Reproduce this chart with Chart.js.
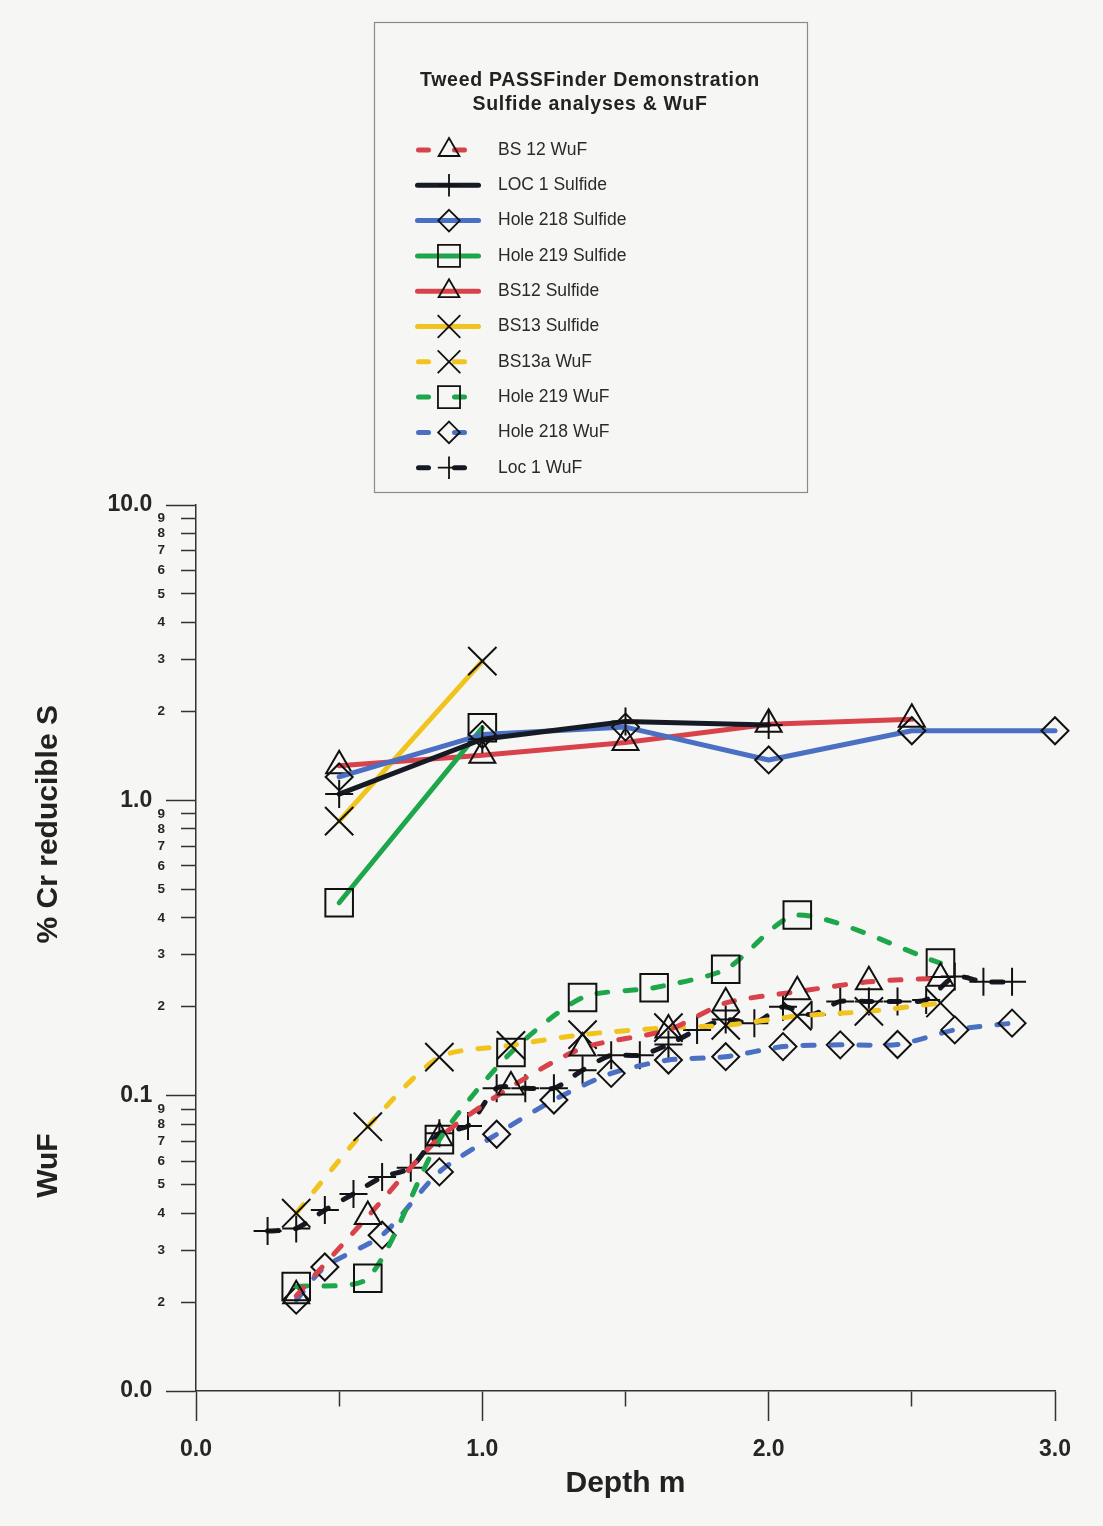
<!DOCTYPE html>
<html>
<head>
<meta charset="utf-8">
<title>Tweed PASSFinder Demonstration</title>
<script src="https://cdn.jsdelivr.net/npm/chart.js@4.4.1/dist/chart.umd.min.js"></script>
<style>
  html, body { margin: 0; padding: 0; background: #f6f6f4; }
  canvas { display: block; }
</style>
</head>
<body>
<canvas id="chart" width="1103" height="1526"></canvas>
<script>
// ---------------- DATA ----------------
const chartTitle = ['Tweed PASSFinder Demonstration', 'Sulfide analyses & WuF'];
const xAxisTitle = 'Depth m';
const yAxisTitles = ['% Cr reducible S', 'WuF'];
const yAxisTitleAnchors = [0.83, 0.058];   // value on the log axis where each title is centred

const xTickValues = [0, 0.5, 1.0, 1.5, 2.0, 2.5, 3.0];
const xTickLabels = ['0.0', '', '1.0', '', '2.0', '', '3.0'];

const yTickValues = [0.01, 0.02, 0.03, 0.04, 0.05, 0.06, 0.07, 0.08, 0.09,
                     0.1, 0.2, 0.3, 0.4, 0.5, 0.6, 0.7, 0.8, 0.9,
                     1, 2, 3, 4, 5, 6, 7, 8, 9, 10];
const yTickLabels = ['0.0', '2', '3', '4', '5', '6', '7', '8', '9',
                     '0.1', '2', '3', '4', '5', '6', '7', '8', '9',
                     '1.0', '2', '3', '4', '5', '6', '7', '8', '9', '10.0'];

const bs12WufX  = [0.35, 0.6, 0.85, 1.1, 1.35, 1.65, 1.85, 2.1, 2.35, 2.6];
const bs12WufY  = [0.021, 0.039, 0.072, 0.107, 0.145, 0.167, 0.206, 0.225, 0.243, 0.25];

const loc1SulfX = [0.5, 1.0, 1.5, 2.0];
const loc1SulfY = [1.05, 1.61, 1.85, 1.80];

const h218SulfX = [0.5, 1.0, 1.5, 2.0, 2.5, 3.0];
const h218SulfY = [1.20, 1.67, 1.77, 1.37, 1.72, 1.72];

const h219SulfX = [0.5, 1.0];
const h219SulfY = [0.45, 1.76];

const bs12SulfX = [0.5, 1.0, 1.5, 2.0, 2.5];
const bs12SulfY = [1.31, 1.42, 1.57, 1.81, 1.88];

const bs13SulfX = [0.5, 1.0];
const bs13SulfY = [0.85, 2.96];

const bs13aWufX = [0.35, 0.6, 0.85, 1.1, 1.35, 1.65, 1.85, 2.1, 2.35, 2.6];
const bs13aWufY = [0.040, 0.0785, 0.135, 0.148, 0.161, 0.170, 0.173, 0.186, 0.193, 0.206];

const h219WufX  = [0.35, 0.6, 0.85, 1.1, 1.35, 1.6, 1.85, 2.1, 2.6];
const h219WufY  = [0.0226, 0.0241, 0.071, 0.140, 0.215, 0.232, 0.268, 0.409, 0.281];

const h218WufX  = [0.35, 0.45, 0.65, 0.85, 1.05, 1.25, 1.45, 1.65, 1.85, 2.05, 2.25, 2.45, 2.65, 2.85];
const h218WufY  = [0.0203, 0.0263, 0.0337, 0.0552, 0.074, 0.0967, 0.119, 0.132, 0.1355, 0.1466, 0.1486, 0.149, 0.167, 0.176];

const loc1WufX  = [0.25, 0.35, 0.45, 0.55, 0.65, 0.75, 0.85, 0.95, 1.05, 1.15, 1.25, 1.35, 1.45, 1.55,
                   1.65, 1.75, 1.85, 1.95, 2.05, 2.15, 2.25, 2.35, 2.45, 2.55, 2.65, 2.75, 2.85];
const loc1WufY  = [0.0348, 0.0355, 0.041, 0.0465, 0.053, 0.057, 0.0746, 0.079, 0.106, 0.106, 0.106, 0.122, 0.137, 0.137,
                   0.149, 0.167, 0.181, 0.176, 0.200, 0.188, 0.2085, 0.2085, 0.2085, 0.211, 0.253, 0.243, 0.243];

// ---------------- STYLE ----------------
const FONT = "'Liberation Sans', Arial, Helvetica, sans-serif";
const RED = '#d8434b', BLUE = '#4a6fc3', GREEN = '#1ea64b', YELLOW = '#f1c41d', BLACK = '#161a24';
const AXIS = '#333333', TEXT = '#262626';
const markerRadius = { triangle: 15, cross: 14, crossRot: 20, rectRot: 13.5, rect: 19.5 };

const series = [
  { label: 'BS 12 WuF',        x: bs12WufX,  y: bs12WufY,  color: RED,    dashed: true,  marker: 'triangle' },
  { label: 'LOC 1 Sulfide',    x: loc1SulfX, y: loc1SulfY, color: BLACK,  dashed: false, marker: 'cross' },
  { label: 'Hole 218 Sulfide', x: h218SulfX, y: h218SulfY, color: BLUE,   dashed: false, marker: 'rectRot' },
  { label: 'Hole 219 Sulfide', x: h219SulfX, y: h219SulfY, color: GREEN,  dashed: false, marker: 'rect' },
  { label: 'BS12 Sulfide',     x: bs12SulfX, y: bs12SulfY, color: RED,    dashed: false, marker: 'triangle' },
  { label: 'BS13 Sulfide',     x: bs13SulfX, y: bs13SulfY, color: YELLOW, dashed: false, marker: 'crossRot' },
  { label: 'BS13a WuF',        x: bs13aWufX, y: bs13aWufY, color: YELLOW, dashed: true,  marker: 'crossRot' },
  { label: 'Hole 219 WuF',     x: h219WufX,  y: h219WufY,  color: GREEN,  dashed: true,  marker: 'rect' },
  { label: 'Hole 218 WuF',     x: h218WufX,  y: h218WufY,  color: BLUE,   dashed: true,  marker: 'rectRot' },
  { label: 'Loc 1 WuF',        x: loc1WufX,  y: loc1WufY,  color: BLACK,  dashed: true,  marker: 'cross' }
];

const datasets = series.map(s => ({
  label: s.label,
  data: s.x.map((xv, i) => ({ x: xv, y: s.y[i] })),
  borderColor: s.color,
  backgroundColor: s.color,
  borderWidth: 5,
  borderDash: s.dashed ? [11, 17] : [],
  borderCapStyle: 'round',
  borderJoinStyle: 'round',
  tension: s.dashed ? 0.25 : 0,
  fill: false,
  clip: false,
  pointStyle: s.marker,
  pointRadius: markerRadius[s.marker],
  pointHoverRadius: markerRadius[s.marker],
  pointBorderColor: '#111111',
  pointBorderWidth: 2,
  pointBackgroundColor: 'rgba(0,0,0,0)'
}));

const isYMajor = i => yTickLabels[i] !== undefined && yTickLabels[i].indexOf('.') >= 0;

// draw a marker with the same geometry as Chart.js point styles (for the legend)
function drawMarker(ctx, style, x, y, r) {
  ctx.beginPath();
  if (style === 'triangle') {
    for (let k = 0; k < 3; k++) {
      const a = k * 2 * Math.PI / 3;
      const px = x + Math.sin(a) * r, py = y - Math.cos(a) * r;
      if (k === 0) ctx.moveTo(px, py); else ctx.lineTo(px, py);
    }
    ctx.closePath();
  } else if (style === 'cross') {
    ctx.moveTo(x, y - r); ctx.lineTo(x, y + r);
    ctx.moveTo(x - r, y); ctx.lineTo(x + r, y);
  } else if (style === 'crossRot') {
    const d = r * Math.SQRT1_2;
    ctx.moveTo(x - d, y - d); ctx.lineTo(x + d, y + d);
    ctx.moveTo(x - d, y + d); ctx.lineTo(x + d, y - d);
  } else if (style === 'rectRot') {
    ctx.moveTo(x, y - r); ctx.lineTo(x + r, y); ctx.lineTo(x, y + r); ctx.lineTo(x - r, y);
    ctx.closePath();
  } else if (style === 'rect') {
    const h = r * Math.SQRT1_2;
    ctx.rect(x - h, y - h, 2 * h, 2 * h);
  }
  ctx.stroke();
}

const legendPlugin = {
  id: 'boxLegend',
  afterDraw(chart) {
    const ctx = chart.ctx;
    const box = { left: 374, top: 22, width: 433, height: 470 };
    ctx.save();
    ctx.strokeStyle = '#8a8a8a';
    ctx.lineWidth = 1.2;
    ctx.strokeRect(box.left + 0.5, box.top + 0.5, box.width, box.height);

    ctx.fillStyle = '#222';
    ctx.textAlign = 'center';
    ctx.textBaseline = 'middle';
    ctx.font = `bold 19.5px ${FONT}`;
    if ('letterSpacing' in ctx) ctx.letterSpacing = '0.7px';
    chartTitle.forEach((t, i) => ctx.fillText(t, 590, 81 + i * 24));
    if ('letterSpacing' in ctx) ctx.letterSpacing = '0px';

    const sx0 = 415, sx1 = 481, mx = 449, tx = 498;
    chart.data.datasets.forEach((ds, i) => {
      const s = series[i];
      const y = 150 + i * 35.3;
      ctx.save();
      ctx.strokeStyle = s.color;
      ctx.lineWidth = 5;
      ctx.lineCap = 'round';
      ctx.beginPath();
      if (s.dashed) {
        ctx.setLineDash([10, 26]);
        ctx.moveTo(418.5, y); ctx.lineTo(466, y);
      } else {
        ctx.moveTo(sx0 + 2.5, y); ctx.lineTo(sx1 - 2.5, y);
      }
      ctx.stroke();
      ctx.restore();

      ctx.strokeStyle = '#111';
      ctx.lineWidth = 1.8;
      drawMarker(ctx, s.marker, mx, y, markerRadius[s.marker] * 0.8);

      ctx.fillStyle = '#2a2a2a';
      ctx.textAlign = 'left';
      ctx.textBaseline = 'middle';
      ctx.font = `17.5px ${FONT}`;
      ctx.fillText(ds.label, tx, y);
    });
    ctx.restore();
  }
};

const yTitlePlugin = {
  id: 'yTitles',
  afterDraw(chart) {
    const ctx = chart.ctx, ys = chart.scales.y;
    ctx.save();
    ctx.font = `bold 30px ${FONT}`;
    ctx.fillStyle = '#222';
    ctx.textAlign = 'center';
    ctx.textBaseline = 'middle';
    yAxisTitles.forEach((t, i) => {
      ctx.save();
      ctx.translate(49, ys.getPixelForValue(yAxisTitleAnchors[i]));
      ctx.rotate(-Math.PI / 2);
      ctx.fillText(t, 0, 0);
      ctx.restore();
    });
    ctx.restore();
  }
};

new Chart(document.getElementById('chart'), {
  type: 'line',
  data: { datasets },
  plugins: [legendPlugin, yTitlePlugin],
  options: {
    responsive: false,
    animation: false,
    devicePixelRatio: 1,
    events: [],
    layout: { padding: { left: 0, top: 505, right: 48, bottom: 0 } },
    plugins: { legend: { display: false }, tooltip: { enabled: false }, title: { display: false } },
    scales: {
      x: {
        type: 'linear',
        min: 0, max: 3,
        afterBuildTicks: s => { s.ticks = xTickValues.map(v => ({ value: v })); },
        afterFit: s => { s.height = 135; s.paddingLeft = 0; s.paddingRight = 0; },
        ticks: {
          autoSkip: false, maxRotation: 0, minRotation: 0, padding: 15,
          color: TEXT,
          font: { family: FONT, size: 23, weight: 'bold' },
          callback: (v, i) => xTickLabels[i]
        },
        grid: {
          drawOnChartArea: false, drawTicks: true, tickLength: 30,
          tickColor: AXIS, tickWidth: 1.5,
          tickBorderDash: c => (xTickLabels[c.index] ? [] : [15, 15])
        },
        border: { display: true, color: AXIS, width: 1.5 },
        title: {
          display: true, text: xAxisTitle, color: '#222',
          font: { family: FONT, size: 30, weight: 'bold' },
          padding: { top: 0, bottom: 24 }
        }
      },
      y: {
        type: 'logarithmic',
        min: 0.01, max: 10,
        afterBuildTicks: s => { s.ticks = yTickValues.map(v => ({ value: v })); },
        afterFit: s => { s.width = 196; s.paddingTop = 0; s.paddingBottom = 0; },
        ticks: {
          autoSkip: false, padding: 1,
          color: TEXT,
          font: c => (isYMajor(c.index)
            ? { family: FONT, size: 23, weight: 'bold' }
            : { family: FONT, size: 13.5, weight: 'bold' }),
          callback: (v, i) => (isYMajor(i) ? yTickLabels[i] + '  ' : yTickLabels[i])
        },
        grid: {
          drawOnChartArea: false, drawTicks: true, tickLength: 30,
          tickColor: AXIS, tickWidth: 1.5,
          tickBorderDash: c => (isYMajor(c.index) ? [] : [0, 15, 15, 0])
        },
        border: { display: true, color: AXIS, width: 1.5 }
      }
    }
  }
});
</script>
</body>
</html>
